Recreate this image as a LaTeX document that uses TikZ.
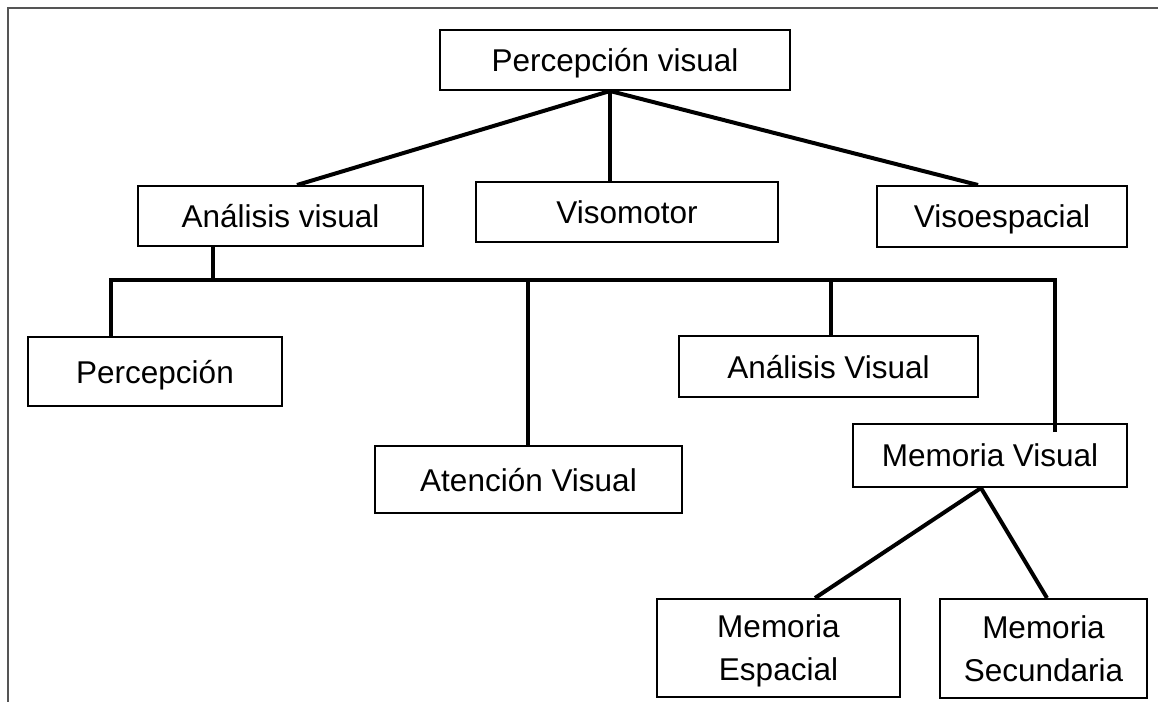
\documentclass[tikz,border=0pt]{standalone}
\usepackage{fontspec}
\setmainfont{Liberation Sans}
\usetikzlibrary{calc}
\definecolor{framegray}{HTML}{555555}
\tikzset{
  box/.style={draw=black, line width=2pt, inner sep=0pt, align=center,
    text depth=0pt, font=\fontsize{31.5pt}{43pt}\selectfont},
  conn/.style={draw=black, line width=4pt},
  framel/.style={draw=framegray, line width=2.4pt}
}
\begin{document}
\begin{tikzpicture}[x=1pt,y=-1pt]
\useasboundingbox (0,0) rectangle (1158,702);
% frame (top and left only)
\coordinate (fTL) at (8,8);
\coordinate (fTR) at (1158,8);
\coordinate (fBL) at (8,702);
\draw[framel] (fTR) -- (fTL) -- (fBL);

% boxes
\node[box, minimum width=350pt, minimum height=60pt] (pv) at (615,60) {Percepción visual};
\node[box, minimum width=285pt, minimum height=60pt] (av) at (280.5,216) {Análisis visual};
\node[box, minimum width=302pt, minimum height=60pt] (vm) at (627,212) {Visomotor};
\node[box, minimum width=250pt, minimum height=61pt] (ve) at (1002,216.5) {Visoespacial};
\node[box, minimum width=254pt, minimum height=69pt] (pe) at (155,371.5) {Percepción};
\node[box, minimum width=307pt, minimum height=67pt] (at) at (528.5,479.5) {Atención Visual};
\node[box, minimum width=299pt, minimum height=61pt] (aV) at (828.5,366.5) {Análisis Visual};
\node[box, minimum width=274pt, minimum height=63pt] (mv) at (990,455.5) {Memoria Visual};
\node[box, minimum width=243pt, minimum height=98pt] (me) at (778.5,648) {Memoria\\Espacial};
\node[box, minimum width=207pt, minimum height=99pt] (ms) at (1043.5,648.5) {Memoria\\Secundaria};

% top level connectors
\draw[conn] ([xshift=-5pt]pv.south) -- ([xshift=16.5pt]av.north);
\draw[conn] ([xshift=-5pt]pv.south) -- ([xshift=-17pt]vm.north);
\draw[conn] ([xshift=-5pt]pv.south) -- ([xshift=-24pt]ve.north);

% bus
\coordinate (busL) at (111,280);
\coordinate (busR) at (1055,280);
\coordinate (b2) at (528,280);
\coordinate (b3) at (831,280);
\draw[conn] ([xshift=-67.5pt]av.south) coordinate (a1) -- (a1 |- busL);
\draw[conn] ([yshift=-9pt]busR |- mv.north) -- (busR) -- (busL) -- (busL |- pe.north);
\draw[conn] (b2) -- (b2 |- at.north);
\draw[conn] (b3) -- (b3 |- aV.north);

% memoria visual children
\draw[conn] ([xshift=-9pt]mv.south) -- ([xshift=36.5pt]me.north);
\draw[conn] ([xshift=-9pt]mv.south) -- ([xshift=3.5pt]ms.north);
\end{tikzpicture}
\end{document}
